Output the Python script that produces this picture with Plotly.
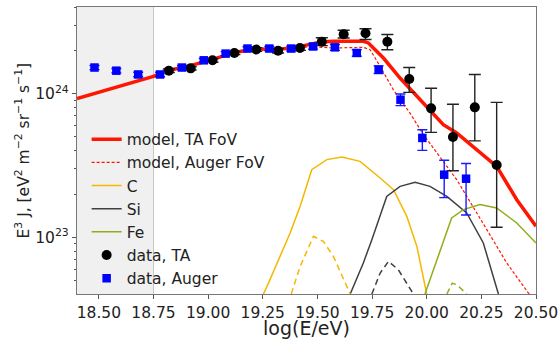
import plotly.graph_objects as go

# ---- data ----
ta_logE = [18.82, 18.92, 19.02, 19.12, 19.22, 19.32, 19.42, 19.52, 19.62, 19.72,
           19.82, 19.92, 20.02, 20.12, 20.22, 20.32]
ta_J = [1.445e24, 1.50e24, 1.706e24, 1.92e24, 2.03e24, 1.99e24, 2.08e24, 2.30e24,
        2.59e24, 2.63e24, 2.30e24, 1.265e24, 7.9e23, 5.0e23, 8.03e23, 3.19e23]
ta_err_up = [0.04e24, 0.04e24, 0.05e24, 0.05e24, 0.06e24, 0.07e24, 0.08e24, 0.15e24,
             0.17e24, 0.20e24, 0.28e24, 0.255e24, 0.30e24, 3.43e23, 5.57e23, 5.50e23]
ta_err_dn = [0.04e24, 0.04e24, 0.05e24, 0.05e24, 0.06e24, 0.07e24, 0.08e24, 0.14e24,
             0.15e24, 0.25e24, 0.28e24, 0.245e24, 2.52e23, 2.09e23, 3.34e23, 2.015e23]

auger_logE = [18.48, 18.58, 18.68, 18.78, 18.88, 18.98, 19.08, 19.18, 19.28, 19.38,
              19.48, 19.58, 19.68, 19.78, 19.88, 19.98, 20.08, 20.18]
auger_J = [1.52e24, 1.445e24, 1.36e24, 1.36e24, 1.52e24, 1.706e24, 1.90e24, 2.06e24,
           2.06e24, 2.06e24, 2.13e24, 2.10e24, 1.92e24, 1.47e24, 9.08e23, 4.92e23,
           2.73e23, 2.56e23]
auger_err_up = [0.05e24, 0.05e24, 0.05e24, 0.05e24, 0.05e24, 0.05e24, 0.06e24, 0.06e24,
                0.07e24, 0.08e24, 0.09e24, 0.10e24, 0.10e24, 0.09e24, 0.87e23, 0.69e23,
                0.71e23, 0.71e23]
auger_err_dn = [0.05e24, 0.05e24, 0.05e24, 0.05e24, 0.05e24, 0.05e24, 0.06e24, 0.06e24,
                0.07e24, 0.08e24, 0.09e24, 0.10e24, 0.10e24, 0.09e24, 0.83e23, 0.89e23,
                0.84e23, 1.13e23]

model_ta_logE = [18.40, 18.75, 18.813, 18.918, 19.019, 19.115, 19.216, 19.316, 19.421,
                 19.516, 19.572, 19.710, 19.733, 19.802, 19.878, 19.955, 20.030, 20.076,
                 20.137, 20.213, 20.320, 20.412, 20.500]
model_ta_logJ = [23.965, 24.120, 24.160, 24.195, 24.237, 24.285, 24.313, 24.306, 24.329,
                 24.360, 24.364, 24.364, 24.353, 24.248, 24.109, 23.981, 23.854, 23.784,
                 23.727, 23.633, 23.494, 23.262, 23.077]

model_auger_logE = [18.75, 18.813, 18.918, 19.019, 19.115, 19.216, 19.316, 19.421, 19.467,
                    19.573, 19.710, 19.741, 19.787, 19.847, 19.923, 19.985, 20.137, 20.275,
                    20.366, 20.465, 20.50]
model_auger_logJ = [24.118, 24.158, 24.193, 24.235, 24.283, 24.310, 24.302, 24.322, 24.327,
                    24.318, 24.322, 24.306, 24.190, 24.028, 23.866, 23.715, 23.402, 23.054,
                    22.822, 22.613, 22.58]

c_ta_logE = [19.253, 19.276, 19.375, 19.421, 19.474, 19.543, 19.612, 19.695, 19.787,
             19.848, 19.909, 19.955, 20.000]
c_ta_logJ = [22.606, 22.682, 23.030, 23.216, 23.471, 23.541, 23.559, 23.529, 23.413,
             23.332, 23.146, 22.937, 22.606]
c_auger_logE = [19.380, 19.421, 19.482, 19.527, 19.573, 19.650]
c_auger_logJ = [22.606, 22.798, 23.007, 22.972, 22.868, 22.606]

si_ta_logE = [19.650, 19.710, 19.749, 19.817, 19.878, 19.947, 20.015, 20.092, 20.183,
              20.259, 20.328]
si_ta_logJ = [22.606, 22.822, 22.984, 23.285, 23.355, 23.383, 23.355, 23.285, 23.170,
              22.961, 22.606]
si_auger_logE = [19.749, 19.787, 19.825, 19.870, 19.939]
si_auger_logJ = [22.606, 22.752, 22.833, 22.775, 22.606]

fe_ta_logE = [19.992, 20.061, 20.114, 20.168, 20.244, 20.320, 20.412, 20.500]
fe_ta_logJ = [22.606, 22.914, 23.135, 23.193, 23.228, 23.205, 23.100, 22.961]
fe_auger_logE = [20.092, 20.117, 20.137, 20.183]
fe_auger_logJ = [22.606, 22.682, 22.671, 22.606]

x_ticks = [18.50, 18.75, 19.00, 19.25, 19.50, 19.75, 20.00, 20.25, 20.50]
x_range = [18.4, 20.5]
y_range_log = [22.606, 24.603]
shade_range = [18.4, 18.75]
y_major = [1e23, 1e24]
y_major_text = ["10<sup>23</sup>", "10<sup>24</sup>"]
y_minor = [k * 1e22 for k in range(5, 10)] + [k * 1e23 for k in range(2, 10)] + [2e24, 3e24, 4e24]
y_title = "E<sup>3</sup> J, [eV<sup>2</sup> m<sup>\u22122</sup> sr<sup>\u22121</sup> s<sup>\u22121</sup>]"

# ---- style ----
RED = "#ff1500"
GOLD = "#f5b800"
GREY = "#404040"
OLIVE = "#8fae1b"
FONT = "DejaVu Sans"
FS = 15.5

def pw(lst):
    return [10 ** v for v in lst]

fig = go.Figure()
traces = [
    ("model, TA FoV", model_ta_logE, model_ta_logJ, RED, 3.5, "solid"),
    ("model, Auger FoV", model_auger_logE, model_auger_logJ, RED, 1.2, "3px,2px"),
    ("C", c_ta_logE, c_ta_logJ, GOLD, 1.5, "solid"),
    ("Si", si_ta_logE, si_ta_logJ, GREY, 1.5, "solid"),
    ("Fe", fe_ta_logE, fe_ta_logJ, OLIVE, 1.5, "solid"),
]
for name, xs, ys, col, w, dash in traces:
    fig.add_trace(go.Scatter(x=xs, y=pw(ys), mode="lines", name=name,
                             line=dict(color=col, width=w, dash=dash)))

for xs, ys, col in [(c_auger_logE, c_auger_logJ, GOLD),
                    (si_auger_logE, si_auger_logJ, GREY),
                    (fe_auger_logE, fe_auger_logJ, OLIVE)]:
    fig.add_trace(go.Scatter(x=xs, y=pw(ys), mode="lines", showlegend=False,
                             line=dict(color=col, width=1.5, dash="6px,4px")))

fig.add_trace(go.Scatter(x=ta_logE, y=ta_J, mode="markers", name="data, TA",
                         marker=dict(color="black", size=10, symbol="circle"),
                         error_y=dict(type="data", array=ta_err_up, arrayminus=ta_err_dn,
                                      color="#222222", thickness=1.4, width=6)))
fig.add_trace(go.Scatter(x=auger_logE, y=auger_J, mode="markers", name="data, Auger",
                         marker=dict(color="#0000ff", size=8.5, symbol="square"),
                         error_y=dict(type="data", array=auger_err_up, arrayminus=auger_err_dn,
                                      color="#1a1aff", thickness=1.4, width=5)))

fig.add_shape(type="rect", xref="x", yref="paper", x0=shade_range[0], x1=shade_range[1],
              y0=0, y1=1, fillcolor="#f0f0f0", line=dict(width=0), layer="below")
fig.add_shape(type="line", xref="x", yref="paper", x0=shade_range[1], x1=shade_range[1],
              y0=0, y1=1, line=dict(color="#c8c8c8", width=1), layer="below")

fig.add_annotation(text=y_title, textangle=-90, xref="paper", yref="paper",
                   x=0, y=0.5, xshift=-54, xanchor="center", yanchor="middle",
                   showarrow=False, font=dict(family=FONT, size=15.5, color="#222222"))

fig.update_layout(
    width=559, height=339,
    margin=dict(l=77, r=23, t=7, b=45),
    plot_bgcolor="white", paper_bgcolor="white",
    font=dict(family=FONT, size=FS, color="#222222"),
    legend=dict(x=0.021, y=0.597, xanchor="left", yanchor="top",
                bgcolor="rgba(0,0,0,0)", font=dict(size=FS, family=FONT),
                itemwidth=30),
    xaxis=dict(range=x_range, tickvals=x_ticks, ticktext=[f"{v:.2f}" for v in x_ticks],
               ticks="outside", ticklen=4, tickcolor="#555", showline=True,
               linecolor="#777", linewidth=1.3, mirror=True, showgrid=False, zeroline=False,
               automargin=False,
               title=dict(text="log(E/eV)", standoff=5), tickfont=dict(size=FS)),
    yaxis=dict(type="log", range=y_range_log, tickvals=y_major, ticktext=y_major_text,
               ticks="outside", ticklen=4, tickcolor="#555", showline=True,
               linecolor="#777", linewidth=1.3, mirror=True, showgrid=False, zeroline=False,
               automargin=False,
               minor=dict(tickvals=y_minor, ticks="outside", ticklen=2, tickcolor="#555"),
               tickfont=dict(size=FS)),
)

fig.write_html("out.html", config={"displayModeBar": False},
               post_script="document.body.style.margin='0';")
